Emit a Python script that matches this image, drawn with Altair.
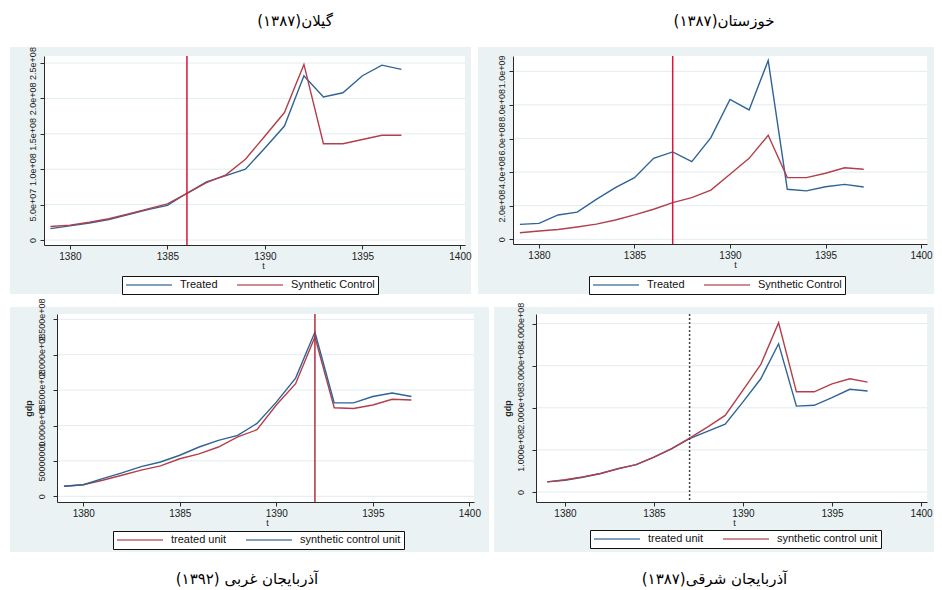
import altair as alt
import pandas as pd

YEARS = list(range(1379, 1398))
X_TICKS = [1380, 1385, 1390, 1395, 1400]

TOP_SERIES = ["Treated", "Synthetic Control"]
BOTTOM_SERIES = ["treated unit", "synthetic control unit"]

# Gilan (top left)
GILAN_TITLE = "\u200fگیلان(۱۳۸۷)\u200f"
GILAN_TREATED = [1.6e7, 2.0e7, 2.4e7, 2.9e7, 3.6e7, 4.3e7, 4.9e7, 6.6e7, 8.2e7, 9.1e7,
                 1.0e8, 1.3e8, 1.61e8, 2.32e8, 2.02e8, 2.08e8, 2.32e8, 2.47e8, 2.41e8]
GILAN_SYNTH = [1.9e7, 2.1e7, 2.5e7, 3.0e7, 3.7e7, 4.4e7, 5.1e7, 6.6e7, 8.1e7, 9.2e7,
               1.14e8, 1.47e8, 1.8e8, 2.48e8, 1.36e8, 1.36e8, 1.42e8, 1.48e8, 1.48e8]
GILAN_EVENT = 1386
GILAN_YTICKS = [0, 50000000, 100000000, 150000000, 200000000, 250000000]
GILAN_YLABELS = ["0", "5.0e+07", "1.0e+08", "1.5e+08", "2.0e+08", "2.5e+08"]

# Khuzestan (top right)
KHUZ_TITLE = "\u200fخوزستان(۱۳۸۷)\u200f"
KHUZ_TREATED = [0.89e8, 0.95e8, 1.45e8, 1.62e8, 2.38e8, 3.07e8, 3.67e8, 4.82e8, 5.2e8, 4.62e8,
                6.05e8, 8.33e8, 7.7e8, 1.065e9, 2.98e8, 2.88e8, 3.13e8, 3.27e8, 3.11e8]
KHUZ_SYNTH = [0.39e8, 0.49e8, 0.58e8, 0.73e8, 0.9e8, 1.15e8, 1.45e8, 1.79e8, 2.18e8, 2.48e8,
              2.93e8, 3.87e8, 4.82e8, 6.19e8, 3.67e8, 3.67e8, 3.93e8, 4.26e8, 4.17e8]
KHUZ_EVENT = 1387
KHUZ_YTICKS = [0, 200000000, 400000000, 600000000, 800000000, 1000000000]
KHUZ_YLABELS = ["0", "2.0e+08", "4.0e+08", "6.0e+08", "8.0e+08", "1.0e+09"]

# West Azerbaijan (bottom left)
WAZ_TITLE = "\u200fآذربایجان غربی (۱۳۹۲)\u200f"
WAZ_TREATED = [1.41e7, 1.64e7, 2.26e7, 2.97e7, 3.7e7, 4.3e7, 5.3e7, 6.0e7, 6.96e7, 8.4e7,
               9.4e7, 1.29e8, 1.59e8, 2.25e8, 1.25e8, 1.24e8, 1.29e8, 1.37e8, 1.36e8]
WAZ_SYNTH = [1.41e7, 1.64e7, 2.5e7, 3.3e7, 4.2e7, 4.85e7, 5.8e7, 6.96e7, 7.9e7, 8.6e7,
             1.03e8, 1.33e8, 1.67e8, 2.32e8, 1.32e8, 1.32e8, 1.41e8, 1.46e8, 1.41e8]
WAZ_EVENT = 1392
WAZ_YTICKS = [0, 50000000, 100000000, 150000000, 200000000, 250000000]
WAZ_YLABELS = ["0", "50000000", "1.000e+08", "1.500e+08", "2.000e+08", "2.500e+08"]

# East Azerbaijan (bottom right)
EAZ_TITLE = "\u200fآذربایجان شرقی(۱۳۸۷)\u200f"
EAZ_TREATED = [0.24e8, 0.28e8, 0.35e8, 0.44e8, 0.56e8, 0.65e8, 0.83e8, 1.03e8, 1.27e8, 1.44e8,
               1.61e8, 2.14e8, 2.69e8, 3.52e8, 2.04e8, 2.06e8, 2.24e8, 2.44e8, 2.40e8]
EAZ_SYNTH = [0.24e8, 0.29e8, 0.36e8, 0.44e8, 0.55e8, 0.65e8, 0.83e8, 1.03e8, 1.28e8, 1.54e8,
             1.82e8, 2.42e8, 3.03e8, 4.02e8, 2.38e8, 2.38e8, 2.57e8, 2.69e8, 2.61e8]
EAZ_EVENT = 1387
EAZ_YTICKS = [0, 100000000, 200000000, 300000000, 400000000]
EAZ_YLABELS = ["0", "1.000e+08", "2.000e+08", "3.000e+08", "4.000e+08"]

BLUE = "#2f6396"
RED = "#b23f4b"
PANEL_BG = "#eaf2f3"
GRID = "#e2ecef"
AXIS_C = "#2a2a2a"
AX_FONT = "Liberation Sans"
FA_FONT = "DejaVu Sans"

ONE = alt.InlineData(values=[{"k": 0}])


def panel(p):
    W, H = p["W"], p["H"]
    n = len(YEARS)
    df = pd.DataFrame({
        "year": YEARS + YEARS,
        "value": p["s1"] + p["s2"],
        "series": [p["names"][0]] * n + [p["names"][1]] * n,
    })
    xs = alt.Scale(domain=p["xdom"], nice=False, zero=False)
    ys = alt.Scale(domain=p["ydom"], nice=False, zero=False)
    expr = "".join(f"datum.value == {v} ? '{l}' : " for v, l in zip(p["yticks"], p["ylabels"])) + "''"
    yaxis_kw = dict(
        values=p["yticks"], labelExpr=expr, grid=False, tickSize=4, tickColor=AXIS_C,
        domainColor=AXIS_C, labelAngle=270, labelAlign="center", labelBaseline="bottom",
        labelPadding=p["ylpad"], labelFontSize=9, labelFont=AX_FONT, labelColor="#222",
        labelOverlap=False, labelFlush=False, zindex=1,
    )
    if p["ytitle"]:
        yaxis = alt.Axis(title=p["ytitle"], titleFont=AX_FONT, titleFontSize=9,
                         titleFontWeight="bold", titleColor="#222", titlePadding=4, **yaxis_kw)
    else:
        yaxis = alt.Axis(title=None, **yaxis_kw)
    xaxis = alt.Axis(
        values=X_TICKS, format="d", grid=False, tickSize=4, tickColor=AXIS_C, domainColor=AXIS_C,
        labelFontSize=10, labelFont=AX_FONT, labelColor="#222", labelPadding=2,
        labelOverlap=False, labelFlush=False, title="t", titleFont=AX_FONT, titleFontSize=9,
        titleFontWeight="normal", titleColor="#222", titlePadding=0, titleX=p["tx"], zindex=1,
    )
    L, R, T, B = p["cell"]
    cell = alt.Chart(ONE).mark_rect(color="white").encode(
        x=alt.value(-L), x2=alt.value(W + R), y=alt.value(-T), y2=alt.value(H + B))
    gl, gr, gt, gb = p["gray"]
    gray = alt.Chart(ONE).mark_rect(color=PANEL_BG).encode(
        x=alt.value(-gl), x2=alt.value(W + gr), y=alt.value(-gt), y2=alt.value(H + gb))
    plot = alt.Chart(ONE).mark_rect(color="white").encode(
        x=alt.value(0), x2=alt.value(W), y=alt.value(0), y2=alt.value(H))
    grid = alt.Chart(pd.DataFrame({"v": p["yticks"]})).mark_rule(color=GRID, strokeWidth=1).encode(
        y=alt.Y("v:Q", scale=ys, axis=yaxis))
    lines = alt.Chart(df).mark_line(strokeWidth=1.4).encode(
        x=alt.X("year:Q", scale=xs, axis=xaxis),
        y=alt.Y("value:Q", scale=ys, axis=yaxis),
        color=alt.Color("series:N", scale=alt.Scale(domain=p["names"], range=p["colors"]),
                        legend=alt.Legend(
                            title=None, orient="none", legendX=p["lx"], legendY=p["ly"],
                            direction="horizontal", strokeColor="#111", fillColor="white",
                            padding=3, symbolType="stroke", symbolSize=2116, symbolStrokeWidth=2,
                            symbolOpacity=0.6, labelFont=AX_FONT, labelFontSize=11,
                            labelColor="#111", labelOffset=7, columnPadding=18, clipHeight=12)),
    )
    ev = alt.Chart(pd.DataFrame({"t": [p["event"]]}))
    if p["dashed"]:
        vmark = ev.mark_rule(color="#444", strokeWidth=1.5, strokeDash=[2, 2])
    else:
        vmark = ev.mark_rule(color=p["vcolor"], strokeWidth=1.5)
    vline = vmark.encode(x=alt.X("t:Q", scale=xs, axis=xaxis))
    title = alt.TitleParams(text=p["title"], orient=p["torient"], anchor="middle", frame="group",
                            baseline="middle", dx=p["tdx"], offset=p["toff"], font=FA_FONT,
                            fontSize=15, fontWeight="normal", color="black")
    return alt.layer(cell, gray, plot, grid, lines, vline).properties(width=W, height=H, title=title)


def spacer():
    return alt.Chart(ONE).mark_rule(strokeWidth=0, opacity=0).encode(
        x=alt.value(0), x2=alt.value(0), y=alt.value(0), y2=alt.value(0)
    ).properties(width=1, height=1)


tl = panel(dict(W=421, H=189, xdom=[1378.67, 1400.26], ydom=[-0.706e7, 2.599e8],
                s1=GILAN_TREATED, s2=GILAN_SYNTH, names=TOP_SERIES, colors=[BLUE, RED],
                yticks=GILAN_YTICKS, ylabels=GILAN_YLABELS, ylpad=3, ytitle=None, tx=219,
                cell=(35, 9, 15, 49), gray=(34, 6, 9, 49), lx=78, ly=220,
                event=GILAN_EVENT, dashed=False, vcolor="#dc143c",
                title=GILAN_TITLE, torient="top", tdx=40.5, toff=5.5))
tr = panel(dict(W=414, H=188, xdom=[1378.639, 1400.314], ydom=[-0.28e8, 1.0911e9],
                s1=KHUZ_TREATED, s2=KHUZ_SYNTH, names=TOP_SERIES, colors=[BLUE, RED],
                yticks=KHUZ_YTICKS, ylabels=KHUZ_YLABELS, ylpad=3, ytitle=None, tx=222,
                cell=(39, 7, 15, 50), gray=(35, 7, 9, 50), lx=76, ly=220,
                event=KHUZ_EVENT, dashed=False, vcolor="#dc143c",
                title=KHUZ_TITLE, torient="top", tdx=4, toff=5.5))
bl = panel(dict(W=417, H=188, xdom=[1378.64, 1400.24], ydom=[-0.805e7, 2.575e8],
                s1=WAZ_TREATED, s2=WAZ_SYNTH, names=BOTTOM_SERIES, colors=[RED, BLUE],
                yticks=WAZ_YTICKS, ylabels=WAZ_YLABELS, ylpad=7, ytitle="gdp", tx=210,
                cell=(48, 17, 19, 53), gray=(47, 15, 7, 50), lx=56, ly=217,
                event=WAZ_EVENT, dashed=False, vcolor="#b0303c",
                title=WAZ_TITLE, torient="bottom", tdx=-18.5, toff=23.5))
br = panel(dict(W=391, H=188, xdom=[1378.371, 1400.337], ydom=[-0.2375e8, 4.228e8],
                s1=EAZ_TREATED, s2=EAZ_SYNTH, names=BOTTOM_SERIES, colors=[BLUE, RED],
                yticks=EAZ_YTICKS, ylabels=EAZ_YLABELS, ylpad=7, ytitle="gdp", tx=198,
                cell=(45, 7, 19, 53), gray=(42, 7, 7, 50), lx=54, ly=216,
                event=EAZ_EVENT, dashed=True, vcolor="#444",
                title=EAZ_TITLE, torient="bottom", tdx=-17, toff=23.5))

row1 = alt.hconcat(spacer(), tl, tr, spacing=0).resolve_scale(color="independent").resolve_legend(color="independent")
row2 = alt.hconcat(spacer(), bl, br, spacing=0).resolve_scale(color="independent").resolve_legend(color="independent")
chart = (
    alt.vconcat(row1, row2, spacing=0)
    .resolve_scale(color="independent")
    .resolve_legend(color="independent")
    .properties(padding={"left": 0, "top": 5, "right": 0, "bottom": 0}, background="white")
    .configure_view(strokeWidth=0)
)

chart.save("out.html", embed_options={"renderer": "svg", "actions": False})
